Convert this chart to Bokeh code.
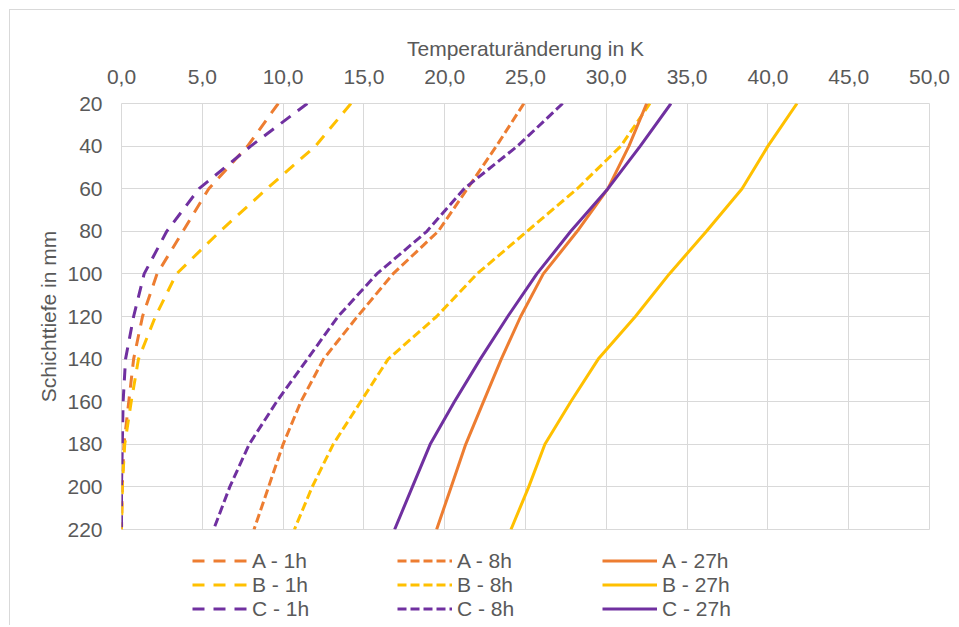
from bokeh.plotting import figure
from bokeh.layouts import column
from bokeh.models import Range1d, FixedTicker, Legend, LegendItem
from bokeh.embed import file_html
from bokeh.resources import INLINE

# ---- data ----
depth = [20, 40, 60, 80, 100, 120, 140, 160, 180, 200, 220]

a_1h = [9.7, 7.8, 5.4, 3.8, 2.2, 1.3, 0.75, 0.45, 0.15, 0.05, 0.0]
b_1h = [14.2, 12.0, 9.0, 6.1, 3.4, 2.1, 1.05, 0.6, 0.2, 0.05, 0.0]
c_1h = [11.5, 8.0, 4.8, 2.8, 1.4, 0.75, 0.25, 0.1, 0.05, 0.0, 0.0]

a_8h = [24.9, 23.2, 21.4, 19.6, 16.8, 14.6, 12.5, 11.1, 10.0, 9.1, 8.2]
b_8h = [32.7, 30.9, 28.2, 25.1, 22.0, 19.5, 16.5, 14.8, 13.1, 11.8, 10.7]
c_8h = [27.3, 24.5, 21.2, 18.9, 15.8, 13.4, 11.5, 9.6, 7.9, 6.7, 5.7]

a_27h = [32.5, 31.4, 30.1, 28.2, 26.1, 24.7, 23.5, 22.4, 21.3, 20.4, 19.5]
b_27h = [41.8, 40.0, 38.4, 36.2, 33.9, 31.8, 29.5, 27.8, 26.2, 25.2, 24.1]
c_27h = [34.0, 32.1, 30.1, 27.8, 25.7, 23.9, 22.2, 20.6, 19.1, 18.0, 16.9]

x_ticks = [0, 5, 10, 15, 20, 25, 30, 35, 40, 45, 50]
x_tick_labels = ["0,0", "5,0", "10,0", "15,0", "20,0", "25,0", "30,0", "35,0", "40,0", "45,0", "50,0"]
y_ticks = [20, 40, 60, 80, 100, 120, 140, 160, 180, 200, 220]

x_title = "Temperaturänderung in K"
y_title = "Schichttiefe in mm"

series = [
    ("A - 1h", a_1h, "#ED7D31", "12 9"),
    ("B - 1h", b_1h, "#FFC000", "12 9"),
    ("C - 1h", c_1h, "#7030A0", "12 9"),
    ("A - 8h", a_8h, "#ED7D31", "9 4"),
    ("B - 8h", b_8h, "#FFC000", "9 4"),
    ("C - 8h", c_8h, "#7030A0", "9 4"),
    ("A - 27h", a_27h, "#ED7D31", "solid"),
    ("B - 27h", b_27h, "#FFC000", "solid"),
    ("C - 27h", c_27h, "#7030A0", "solid"),
]

FONT = "Liberation Sans"
FS = "21px"
GREY = "#595959"
GRID = "#d9d9d9"
LW = 3

# ---- main chart ----
p = figure(width=945, height=530, output_backend="svg", toolbar_location=None,
           x_range=Range1d(0, 50), y_range=Range1d(220, 20),
           x_axis_location="above",
           min_border_left=111, min_border_right=26, min_border_top=93, min_border_bottom=11)

p.background_fill_color = "white"
p.border_fill_color = "white"
p.outline_line_color = GRID

p.xaxis.ticker = FixedTicker(ticks=x_ticks)
p.xaxis.major_label_overrides = dict(zip(x_ticks, x_tick_labels))
p.yaxis.ticker = FixedTicker(ticks=y_ticks)
p.xgrid.ticker = FixedTicker(ticks=x_ticks)
p.ygrid.ticker = FixedTicker(ticks=y_ticks)
p.grid.grid_line_color = GRID
p.grid.grid_line_width = 1

for ax in (p.xaxis, p.yaxis):
    ax.axis_line_color = None
    ax.major_tick_line_color = None
    ax.minor_tick_line_color = None
    ax.major_label_text_font = FONT
    ax.major_label_text_font_size = FS
    ax.major_label_text_color = GREY
    ax.axis_label_text_font = FONT
    ax.axis_label_text_font_size = FS
    ax.axis_label_text_color = GREY
    ax.axis_label_text_font_style = "normal"

p.xaxis.axis_label = x_title
p.yaxis.axis_label = y_title
p.xaxis.major_label_standoff = 14
p.xaxis.axis_label_standoff = 7
p.yaxis.major_label_standoff = 13
p.yaxis.axis_label_standoff = 4

for name, vals, color, dash in series:
    p.line(vals, depth, line_color=color, line_width=LW, line_dash=dash)

# ---- legend strip below the chart ----
# (the same series are plotted here far outside this strip's 0..1 ranges,
#  so only their legend samples become visible)
q = figure(width=945, height=85, output_backend="svg", toolbar_location=None,
           x_range=Range1d(0, 1), y_range=Range1d(0, 1),
           min_border_left=0, min_border_right=0, min_border_top=0, min_border_bottom=0)
q.axis.visible = False
q.grid.visible = False
q.outline_line_color = None
q.background_fill_color = "white"
q.border_fill_color = "white"

items = []
for name, vals, color, dash in series:
    r = q.line(vals, depth, line_color=color, line_width=LW, line_dash=dash)
    items.append(LegendItem(label=name, renderers=[r]))

legend = Legend(items=items, orientation="vertical", nrows=3,
                location=(71, 4.5), padding=0, margin=0, spacing=0,
                glyph_width=55, glyph_height=23, label_height=23, label_width=145,
                label_standoff=5, label_text_font=FONT, label_text_font_size=FS,
                label_text_color=GREY, border_line_color=None, background_fill_alpha=0)
q.add_layout(legend, "center")

layout = column(p, q, spacing=0)
layout.styles = {"margin-left": "9px", "margin-top": "9px",
                 "border-left": f"1px solid {GRID}", "border-top": f"1px solid {GRID}"}

open("out.html", "w").write(file_html(layout, INLINE))
